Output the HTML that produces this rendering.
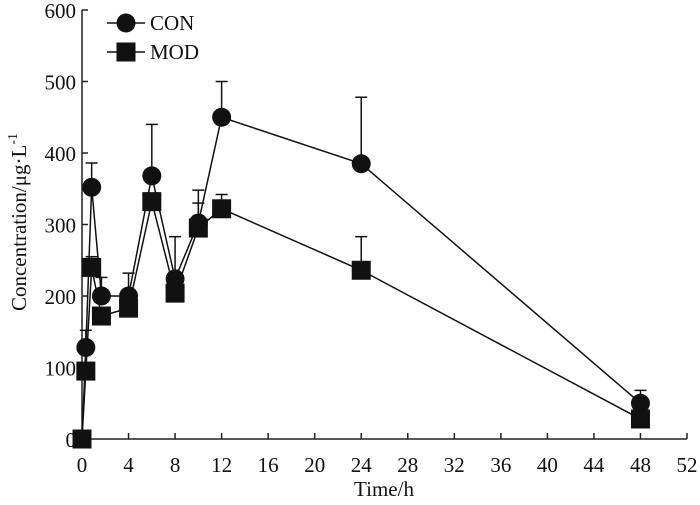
<!DOCTYPE html>
<html><head><meta charset="utf-8"><style>
body{margin:0;background:#fff}
svg text{font-family:"Liberation Serif",serif;fill:#111}
</style></head><body>
<svg id="chart" width="700" height="500" viewBox="0 0 700 500" xmlns="http://www.w3.org/2000/svg"></svg>
<script>
const times=[0,0.33,0.83,1.67,4,6,8,10,12,24,48];
const conValues=[0,128,352,200,200,368,224,302,450,385,50];
const conErr=[0,24,34,26,32,72,59,46,50,93,18];
const modValues=[0,95,240,172,183,332,204,295,322,236,28];
const modErr=[0,10,15,10,10,10,10,35,20,47,5];
const xTicks=[0,4,8,12,16,20,24,28,32,36,40,44,48,52];
const yTicks=[0,100,200,300,400,500,600];

const NS='http://www.w3.org/2000/svg';
const svg=document.getElementById('chart');
const X=t=>82+t*(687-82)/52;
const Y=v=>439-v*(439-10)/600;
function mk(tag,attrs,parent){const e=document.createElementNS(NS,tag);for(const k in attrs)e.setAttribute(k,attrs[k]);(parent||svg).appendChild(e);return e;}

const axes=mk('g',{stroke:'#222','stroke-width':1.5});


mk('line',{x1:X(0),y1:Y(0),x2:X(52),y2:Y(0)},axes);
mk('line',{x1:X(0),y1:Y(0),x2:X(0),y2:Y(600)},axes);
xTicks.forEach(t=>{
  mk('line',{x1:X(t),y1:Y(0),x2:X(t),y2:Y(0)-6},axes);
  const tx=mk('text',{x:X(t),y:472,'text-anchor':'middle','font-size':21});
  tx.textContent=t;
  
  
});
yTicks.forEach(v=>{
  mk('line',{x1:X(0),y1:Y(v),x2:X(0)+6,y2:Y(v)},axes);
  const tx=mk('text',{x:76,y:Y(v)+8,'text-anchor':'end','font-size':21});
  tx.textContent=v;
  
  
});
const xt=mk('text',{x:384,y:496,'text-anchor':'middle','font-size':21});
xt.textContent='Time/h';


const yt=mk('text',{x:0,y:0,'text-anchor':'middle','font-size':21,transform:'translate(26,222) rotate(-90)'});
yt.innerHTML='Concentration/μg·L<tspan dy="-9" font-size="14">-1</tspan>';



function series(vals,errs,shape,name){
  const g=mk('g',{});
  
  
  vals.forEach((v,i)=>{if(errs[i]>0){
    mk('line',{x1:X(times[i]),y1:Y(v),x2:X(times[i]),y2:Y(v+errs[i]),stroke:'#111','stroke-width':1.5},g);
    mk('line',{x1:X(times[i])-6,y1:Y(v+errs[i]),x2:X(times[i])+6,y2:Y(v+errs[i]),stroke:'#111','stroke-width':1.5},g);
  }});
  mk('polyline',{points:vals.map((v,i)=>X(times[i])+','+Y(v)).join(' '),fill:'none',stroke:'#111','stroke-width':1.5},g);
  vals.forEach((v,i)=>{
    let m;
    if(shape==='circle') m=mk('circle',{cx:X(times[i]),cy:Y(v),r:9.5,fill:'#111'},g);
    else m=mk('rect',{x:X(times[i])-9.5,y:Y(v)-9.5,width:19,height:19,fill:'#111'},g);
    
    
  });
}
series(conValues,conErr,'circle','con');
series(modValues,modErr,'square','mod');

const lg=mk('g',{});


mk('line',{x1:107,y1:23,x2:145,y2:23,stroke:'#111','stroke-width':1.5},lg);
mk('circle',{cx:126,cy:23,r:9.5,fill:'#111'},lg);
let t1=mk('text',{x:150,y:30,'font-size':21},lg);t1.textContent='CON';


mk('line',{x1:107,y1:52,x2:145,y2:52,stroke:'#111','stroke-width':1.5},lg);
mk('rect',{x:116.5,y:42.5,width:19,height:19,fill:'#111'},lg);
let t2=mk('text',{x:150,y:59,'font-size':21},lg);t2.textContent='MOD';


</script>
</body></html>
